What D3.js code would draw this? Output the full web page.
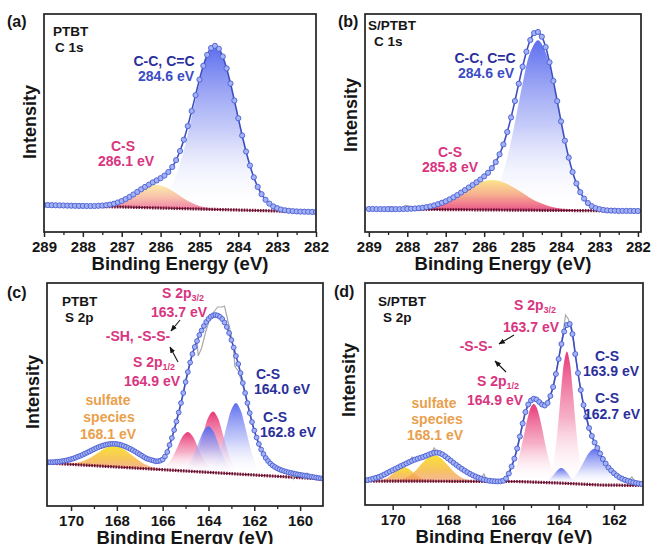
<!DOCTYPE html>
<html>
<head>
<meta charset="UTF-8">
<title>PTBT / S-PTBT XPS</title>
<script src="https://cdn.jsdelivr.net/npm/d3@7"></script>
<style>
  body { margin: 0; background: #fff; }
  svg { display: block; }
  text { font-family: "Liberation Sans", Arial, sans-serif; font-weight: bold; }
</style>
</head>
<body>
<svg id="fig" width="652" height="544"></svg>
<script>
var ticksC1s = [289, 288, 287, 286, 285, 284, 283, 282];
var minorC1s = [288.5, 287.5, 286.5, 285.5, 284.5, 283.5, 282.5];
var ticksS2pC = [170, 168, 166, 164, 162, 160];
var minorS2pC = [169, 167, 165, 163, 161];
var ticksS2pD = [170, 168, 166, 164, 162];
var minorS2pD = [169, 167, 165, 163];

// (a) PTBT C 1s, 289.0 -> 282.0
var envA = [27.0,26.9,26.8,26.7,26.6,26.5,26.4,26.3,26.2,26.1,26.1,26.0,26.0,26.0,26.2,26.4,26.8,27.4,28.3,29.5,
  31.0,32.9,35.1,37.5,40.1,42.7,45.1,47.4,49.6,51.6,53.8,56.4,60.0,65.0,71.9,81.0,92.3,105.9,121.0,136.9,
  152.4,166.2,177.1,184.0,186.2,183.2,175.5,163.6,148.5,131.5,113.8,96.5,80.5,66.5,54.7,45.1,37.8,32.3,28.4,25.6,
  23.8,22.5,21.7,21.2,20.9,20.6,20.4,20.3,20.2,20.1,20.0];
var bgA = [[289, 27], [282, 20]];
var mainA = [[286.4,25.3],[286.2,27.0],[286.0,31.2],[285.8,40.2],[285.6,56.7],[285.4,82.1],[285.2,115.0],[285.0,149.3],
  [284.8,175.7],[284.6,185.6],[284.4,175.3],[284.2,148.5],[284.0,113.8],[283.8,80.5],[283.6,54.7],[283.4,37.8],
  [283.2,28.4],[283.0,23.8],[282.8,21.7]];
var csA = [[287.8,26.0],[287.6,26.2],[287.4,26.8],[287.2,28.3],[287.0,31.0],[286.8,35.0],[286.6,39.8],[286.4,44.2],
  [286.2,46.8],[286.0,46.6],[285.8,43.6],[285.6,38.8],[285.4,33.6],[285.2,29.2],[285.0,26.1],[284.8,24.2],
  [284.6,23.2],[284.4,22.6]];

// (b) S/PTBT C 1s, 289.0 -> 282.0
var envB = [23.0,23.0,22.9,22.9,22.9,22.9,22.8,22.9,22.9,23.0,23.1,23.3,23.5,23.8,24.3,24.9,25.6,26.6,27.8,29.2,
  30.7,32.6,34.7,36.9,39.4,41.9,44.5,47.0,49.7,52.5,55.6,59.2,63.9,69.9,77.7,87.6,100.0,114.6,131.0,148.3,
  165.3,180.3,192.0,198.9,200.0,195.3,184.9,169.7,151.1,130.9,110.6,91.3,74.4,60.0,48.6,39.8,33.4,28.9,25.8,23.9,
  22.8,22.1,21.6,21.4,21.3,21.1,21.1,21.1,21.1,21.0,21.0];
var bgB = [[289, 23], [282, 21]];
var mainB = [[286.4,22.7],[286.2,23.7],[286.0,26.6],[285.8,33.9],[285.6,48.7],[285.4,74.0],[285.2,109.2],[285.0,148.3],
  [284.8,179.7],[284.6,191.7],[284.4,179.6],[284.2,148.0],[284.0,108.9],[283.8,73.5],[283.6,48.2],[283.4,33.2],
  [283.2,25.8],[283.0,22.8],[282.8,21.6]];
var csB = [[288.4,22.9],[288.2,22.9],[288.0,23.1],[287.8,23.5],[287.6,24.3],[287.4,25.6],[287.2,27.8],[287.0,30.7],
  [286.8,34.7],[286.6,39.3],[286.4,44.1],[286.2,48.2],[286.0,51.1],[285.8,52.1],[285.6,51.0],[285.4,48.0],
  [285.2,43.7],[285.0,38.9],[284.8,34.1],[284.6,30.0],[284.4,27.0],[284.2,24.7],[284.0,23.3],[283.8,22.4],
  [283.6,21.9],[283.4,21.6]];
var rawB = [[288.6,22.9],[288.5,24.6],[288.4,25.5],[288.3,23.2],[288.15,23.0],[288.05,26.5],[287.95,26.0],[287.85,23.5]];

// (c) PTBT S 2p, 171.0 -> 159.0
var envC = [43.7,43.8,43.8,44.0,44.2,44.4,44.8,45.2,45.6,46.2,46.9,47.5,48.4,49.3,50.2,51.2,52.3,53.4,54.5,55.7,
  56.8,57.9,58.9,59.7,60.5,61.2,61.7,62.0,62.2,62.1,61.9,61.5,60.9,60.1,59.2,58.1,57.0,55.8,54.4,53.0,
  51.6,50.2,48.8,47.5,46.7,46.0,45.4,44.7,44.8,45.4,46.5,49.5,54,61,68,76,84.5,93.5,103,113,
  124,134,143.5,152,159,165,171,175.5,180,184,187,189.3,190.6,191,190.5,189.2,187,183.5,179,173,
  166,158.5,150,142,133,123,113,103,93,84,75.5,68.5,62,56.5,52,48,45,42.5,40.5,39,
  37.7,36.6,35.7,34.9,34.2,33.6,33.1,32.6,32.1,31.6,31.2,30.8,30.4,30.0,29.6,29.2,28.8,28.4,28.0,27.7,27.3];
var bgC = [[171, 43], [159, 27]];
var sulC = [[170.1,42.4],[169.9,42.7],[169.7,43.5],[169.5,44.7],[169.3,46.5],[169.1,49.1],[168.9,52.1],[168.7,55.1],
  [168.5,57.9],[168.3,59.7],[168.1,60.1],[167.9,59.2],[167.7,56.8],[167.5,53.5],[167.3,50.0],[167.1,46.4],
  [166.9,43.3],[166.7,41.0],[166.5,39.2],[166.3,37.9],[166.1,37.1]];
var p12C = [[166.1,37.6],[165.9,39.5],[165.7,43.9],[165.5,51.7],[165.3,61.7],[165.1,70.4],[164.9,73.9],[164.7,69.9],
  [164.5,60.6],[164.3,50.1],[164.1,41.8],[163.9,36.8],[163.7,34.4]];
var p32C = [[165.0,36.7],[164.8,39.9],[164.6,47.1],[164.4,59.3],[164.2,75.0],[164.0,89.0],[163.8,94.4],[163.6,88.4],
  [163.4,74.0],[163.2,57.7],[163.0,44.9],[162.8,37.3],[162.6,33.5]];
var cs1C = [[165.2,36.6],[165.0,38.9],[164.8,44.2],[164.6,53.4],[164.4,65.2],[164.2,75.6],[164.0,79.7],[163.8,75.1],
  [163.6,64.1],[163.4,51.8],[163.2,42.1],[163.0,36.2],[162.8,33.4]];
var cs2C = [[164.0,35.7],[163.8,39.4],[163.6,47.7],[163.4,62.1],[163.2,80.5],[163.0,96.6],[162.8,103.1],[162.6,96.1],
  [162.4,79.4],[162.2,60.5],[162.0,45.6],[161.8,36.7],[161.6,32.5]];
var rawC = [[171.0,44],[170.8,45],[170.6,43],[170.4,46],[170.2,45],[170.0,48],[169.8,47],[169.6,51],[169.4,50],
  [169.2,55],[169.0,55],[168.8,60],[168.6,59],[168.4,63],[168.2,61],[168.0,64],[167.8,60],[167.6,61],[167.4,56],
  [167.2,56],[167.0,51],[166.8,50],[166.6,46],[166.4,46],[166.2,44],[166.0,46],[165.8,53],[165.6,67],[165.4,84],
  [165.2,102],[165.0,124],[164.8,145],[164.6,161],[164.5,166],[164.45,150],[164.3,158],[164.1,176],[163.9,190],
  [163.7,196],[163.6,199],[163.4,199],[163.3,200],[163.2,190],[163.0,170],[162.9,155],[162.85,140],[162.8,138],
  [162.7,135],[162.6,128],[162.4,112],[162.2,93],[162.0,75],[161.8,61],[161.6,52],[161.4,45],[161.2,40],[161.0,38],
  [160.8,35],[160.6,34],[160.4,33],[160.3,27],[160.2,33],[160.0,31],[159.8,27],[159.7,33],[159.5,29],[159.2,28],[159.0,27]];

// (d) S/PTBT S 2p, 171.0 -> 161.0
var envD = [24.5,25.0,25.6,26.4,27.2,28.0,29.2,30.5,32.0,33.4,34.8,36.2,37.6,39.0,40.3,41.6,43.0,44.2,45.3,46.3,
  47.2,48.1,49.2,50.3,51.4,52.2,52.4,51.9,50.6,48.7,46.6,44.4,42.2,40.1,38.1,36.2,34.4,32.7,31.1,29.7,
  28.4,27.3,26.3,25.4,24.7,24.2,23.9,23.7,23.6,23.7,24.3,26.5,31.5,38.5,46.3,56.5,68.5,81.5,93,100.5,
  104.5,106.3,105.5,103,100.5,99.5,102,109,118,131,146,161,173.5,180,181,171,151,132,115,100,
  88,77,69,62.5,57,51.5,46,41.5,37.5,34.5,31.8,29.5,27.6,26.2,25.1,24.1,23.3,22.6,22.0,21.5,21.1];
var bgD = [[171, 24], [165.5, 23.5], [164, 22], [162.5, 20], [161, 19.5]];
var y1D = [[170.4,25.0],[170.2,27.1],[170.0,31.2],[169.8,35.8],[169.6,37.9],[169.4,35.7],[169.2,31.1],[169.0,27.0],[168.8,24.8]];
var y2D = [[169.9,24.4],[169.7,25.4],[169.5,27.4],[169.3,31.1],[169.1,36.5],[168.9,42.7],[168.7,47.8],[168.5,49.8],
  [168.3,47.8],[168.1,42.6],[167.9,36.4],[167.7,30.9],[167.5,27.2],[167.3,25.2],[167.1,24.2]];
var p12D = [[165.9,24.8],[165.8,26.4],[165.7,29.2],[165.6,34.0],[165.5,41.4],[165.4,51.5],[165.3,63.9],[165.2,77.3],
  [165.1,89.3],[165.0,97.9],[164.9,100.9],[164.8,97.7],[164.7,88.9],[164.6,76.7],[164.5,63.1],[164.4,50.5],
  [164.3,40.2],[164.2,32.7],[164.1,27.8],[164.0,24.9],[163.9,23.2]];
var p32D = [[164.5,23.3],[164.4,25.0],[164.3,29.7],[164.2,40.0],[164.1,58.8],[164.0,86.3],[163.9,117.7],[163.8,143.5],
  [163.7,153.6],[163.6,143.3],[163.5,117.1],[163.4,85.5],[163.3,57.8],[163.2,38.7],[163.1,28.2],[163.0,23.3],[162.9,21.3]];
var cs1D = [[164.5,23.3],[164.4,24.4],[164.3,26.5],[164.2,29.5],[164.1,33.0],[164.0,35.8],[163.9,36.9],[163.8,35.5],
  [163.7,32.5],[163.6,28.8],[163.5,25.5],[163.4,23.2],[163.3,21.9]];
var cs2D = [[163.7,23.2],[163.5,26.2],[163.3,32.8],[163.1,42.7],[162.9,52.3],[162.7,56.3],[162.5,52.1],[162.3,41.9],
  [162.1,31.6],[161.9,24.7],[161.7,21.3]];
var rawD = [[171.0,25],[170.7,26],[170.55,30],[170.4,27],[170.2,32],[170.0,35],[169.8,38],[169.6,40],[169.4,43],
  [169.3,48],[169.2,45],[169.0,47],[168.8,49],[168.6,52],[168.5,57],[168.4,53],[168.2,51],[168.0,47],[167.8,42],
  [167.6,38],[167.4,34],[167.2,31],[167.0,28],[166.8,27],[166.7,31],[166.6,25],[166.4,24],[166.2,24],[166.0,25],
  [165.8,32],[165.6,46],[165.4,68],[165.2,93],[165.0,104],[164.9,107],[164.7,103],[164.5,100],[164.3,109],
  [164.1,131],[163.9,161],[163.75,190],[163.65,186],[163.5,171],[163.3,132],[163.1,100],[162.9,77],[162.7,62],
  [162.5,52],[162.3,41],[162.1,34],[161.9,30],[161.7,26],[161.5,24],[161.35,28],[161.2,22],[161.0,21]];

var NAVY = "#2b2f9c", BLUE = "#3b4cc4", PINK = "#d9357f", ORANGE = "#e9a04c", INK = "#151515";

var svg = d3.select("#fig");
var defs = svg.append("defs");

function grad(id, stops) {
    var g = defs.append("linearGradient").attr("id", id)
        .attr("x1", 0).attr("y1", 0).attr("x2", 0).attr("y2", 1);
    stops.forEach(function (s) {
        g.append("stop").attr("offset", s[0]).attr("stop-color", s[1]).attr("stop-opacity", s[2]);
    });
}
grad("gBlue", [[0, "#5466ee", 0.95], [0.5, "#9ea8f4", 0.6], [1, "#ffffff", 0]]);
grad("gPink", [[0, "#e62f6f", 0.95], [0.5, "#f07ba3", 0.6], [1, "#ffffff", 0]]);
grad("gCS", [[0, "#fce68c", 1], [0.5, "#f6a98a", 0.95], [1, "#e8457f", 0.9]]);
grad("gSul", [[0, "#f8e236", 1], [0.6, "#f6bd4f", 0.9], [1, "#ef8f58", 0.6]]);

defs.append("marker").attr("id", "arr").attr("viewBox", "0 0 10 10")
    .attr("refX", 9).attr("refY", 5).attr("markerWidth", 6).attr("markerHeight", 6)
    .attr("orient", "auto")
    .append("path").attr("d", "M0,1L10,5L0,9z").attr("fill", INK);

function toPts(start, vals) {
    return vals.map(function (v, i) { return [+(start - i * 0.1).toFixed(2), v]; });
}

var panels = [
    {key: "a", box: [44, 14, 316, 232], xDom: [289, 282], ticks: ticksC1s, minor: minorC1s,
        env: toPts(289, envA), bg: bgA, raw: null, r: 2.6, yLab: [36, 122],
        comps: [{d: mainA, g: "gBlue"}, {d: csA, g: "gCS", op: 0.75}]},
    {key: "b", box: [365, 14, 641, 232], xDom: [289.1, 281.92], ticks: ticksC1s, minor: minorC1s,
        env: toPts(289, envB), bg: bgB, raw: rawB, r: 2.6, yLab: [357, 115],
        comps: [{d: mainB, g: "gBlue"}, {d: csB, g: "gCS"}]},
    {key: "c", box: [47, 283, 323, 506], xDom: [171.05, 159], ticks: ticksS2pC, minor: minorS2pC,
        env: toPts(171, envC), bg: bgC, raw: rawC, r: 2.4, yLab: [39, 392],
        comps: [{d: sulC, g: "gSul"}, {d: p12C, g: "gPink"}, {d: p32C, g: "gPink"},
            {d: cs1C, g: "gBlue"}, {d: cs2C, g: "gBlue"}]},
    {key: "d", box: [365, 283, 643, 505], xDom: [171, 160.95], ticks: ticksS2pD, minor: minorS2pD,
        env: toPts(171, envD), bg: bgD, raw: rawD, r: 2.5, yLab: [355, 380],
        comps: [{d: y1D, g: "gSul"}, {d: y2D, g: "gSul"}, {d: p12D, g: "gPink"}, {d: p32D, g: "gPink"},
            {d: cs1D, g: "gBlue"}, {d: cs2D, g: "gBlue"}]}
];

panels.forEach(function (p) {
    var x0 = p.box[0], y0 = p.box[1], x1 = p.box[2], y1 = p.box[3];
    var x = d3.scaleLinear().domain(p.xDom).range([x0, x1]);
    var y = d3.scaleLinear().domain([0, y1 - y0]).range([y1, y0]);
    var bgS = d3.scaleLinear().domain(p.bg.map(function (d) { return d[0]; }))
        .range(p.bg.map(function (d) { return d[1]; }));

    defs.append("clipPath").attr("id", "clip" + p.key)
        .append("rect").attr("x", x0).attr("y", y0).attr("width", x1 - x0).attr("height", y1 - y0);
    var plot = svg.append("g").attr("clip-path", "url(#clip" + p.key + ")");

    var area = d3.area()
        .x(function (d) { return x(d[0]); })
        .y0(function (d) { return y(bgS(d[0])); })
        .y1(function (d) { return y(d[1]); })
        .curve(d3.curveCatmullRom);
    p.comps.forEach(function (c) {
        plot.append("path").datum(c.d).attr("d", area)
            .attr("fill", "url(#" + c.g + ")").attr("opacity", c.op || 1);
    });

    var line = d3.line().x(function (d) { return x(d[0]); }).y(function (d) { return y(d[1]); });

    // background with its dense markers
    plot.append("path").datum(p.bg).attr("d", line).attr("fill", "none")
        .attr("stroke", "#8a1a3e").attr("stroke-width", 3.2).attr("stroke-dasharray", "1.6 1.1");
    plot.append("path").datum(p.bg).attr("d", line).attr("fill", "none")
        .attr("stroke", "#4d0a22").attr("stroke-width", 0.8);

    if (p.raw) {
        plot.append("path").datum(p.raw).attr("d", line).attr("fill", "none")
            .attr("stroke", "#a9a9a9").attr("stroke-width", 1.2);
    }

    plot.append("path").datum(p.env).attr("d", d3.line()
            .x(function (d) { return x(d[0]); }).y(function (d) { return y(d[1]); })
            .curve(d3.curveCatmullRom))
        .attr("fill", "none").attr("stroke", "#3d4fc0").attr("stroke-width", 1.6);

    plot.selectAll("circle.pt").data(p.env).enter().append("circle")
        .attr("class", "pt")
        .attr("cx", function (d) { return x(d[0]); })
        .attr("cy", function (d) { return y(d[1]); })
        .attr("r", p.r)
        .attr("fill", "#a3b2f7").attr("stroke", "#4a5dcf").attr("stroke-width", 0.9);

    svg.append("rect").attr("x", x0).attr("y", y0).attr("width", x1 - x0).attr("height", y1 - y0)
        .attr("fill", "none").attr("stroke", "#222").attr("stroke-width", 1.7);

    var ax = svg.append("g").attr("transform", "translate(0," + y1 + ")")
        .call(d3.axisBottom(x).tickValues(p.ticks).tickSize(5).tickPadding(4).tickFormat(d3.format("d")));
    ax.attr("font-size", 15).attr("font-family", null);
    ax.select(".domain").remove();
    ax.selectAll("line").attr("stroke", "#222").attr("stroke-width", 1.5);
    ax.selectAll("text").attr("fill", INK);

    var mx = svg.append("g").attr("transform", "translate(0," + y1 + ")")
        .call(d3.axisBottom(x).tickValues(p.minor).tickSize(3).tickFormat(""));
    mx.select(".domain").remove();
    mx.selectAll("line").attr("stroke", "#222").attr("stroke-width", 1.3);

    svg.append("text").attr("x", (x0 + x1) / 2).attr("y", y1 + 38)
        .attr("text-anchor", "middle").attr("font-size", 18.5).attr("fill", INK)
        .text("Binding Energy (eV)");
    svg.append("text").attr("transform", "translate(" + p.yLab[0] + "," + p.yLab[1] + ") rotate(-90)")
        .attr("text-anchor", "middle").attr("font-size", 18).attr("fill", INK)
        .text("Intensity");
});

var labels = [
    {x: 7, y: 27, t: "(a)", c: INK, s: 16, a: "start"},
    {x: 338, y: 27, t: "(b)", c: INK, s: 16, a: "start"},
    {x: 7, y: 298, t: "(c)", c: INK, s: 16, a: "start"},
    {x: 334, y: 297, t: "(d)", c: INK, s: 16, a: "start"},
    {x: 53, y: 36, t: "PTBT", c: INK, s: 13.5, a: "start"},
    {x: 55, y: 52, t: "C 1s", c: INK, s: 13.5, a: "start"},
    {x: 368, y: 30, t: "S/PTBT", c: INK, s: 13.5, a: "start"},
    {x: 374, y: 46, t: "C 1s", c: INK, s: 13.5, a: "start"},
    {x: 62, y: 306, t: "PTBT", c: INK, s: 13.5, a: "start"},
    {x: 65, y: 322, t: "S 2p", c: INK, s: 13.5, a: "start"},
    {x: 378, y: 306, t: "S/PTBT", c: INK, s: 13.5, a: "start"},
    {x: 383, y: 322, t: "S 2p", c: INK, s: 13.5, a: "start"},
    // (a)
    {x: 164, y: 66, t: "C-C, C=C", c: NAVY}, {x: 166, y: 81, t: "284.6 eV", c: BLUE},
    {x: 123, y: 151, t: "C-S", c: PINK}, {x: 126, y: 166, t: "286.1 eV", c: PINK},
    // (b)
    {x: 485, y: 63, t: "C-C, C=C", c: NAVY}, {x: 486, y: 78, t: "284.6 eV", c: BLUE},
    {x: 450, y: 157, t: "C-S", c: PINK}, {x: 450, y: 172, t: "285.8 eV", c: PINK},
    // (c)
    {x: 183, y: 298, t: "S 2p", sub: "3/2", c: PINK}, {x: 179, y: 317, t: "163.7 eV", c: PINK},
    {x: 138, y: 341, t: "-SH, -S-S-", c: PINK},
    {x: 154, y: 367, t: "S 2p", sub: "1/2", c: PINK}, {x: 152, y: 386, t: "164.9 eV", c: PINK},
    {x: 268, y: 379, t: "C-S", c: NAVY}, {x: 282, y: 394, t: "164.0 eV", c: NAVY},
    {x: 275, y: 422, t: "C-S", c: NAVY}, {x: 288, y: 437, t: "162.8 eV", c: NAVY},
    {x: 108, y: 405, t: "sulfate", c: ORANGE}, {x: 109, y: 422, t: "species", c: ORANGE},
    {x: 108, y: 439, t: "168.1 eV", c: ORANGE},
    // (d)
    {x: 535, y: 310, t: "S 2p", sub: "3/2", c: PINK}, {x: 531, y: 332, t: "163.7 eV", c: PINK},
    {x: 476, y: 351, t: "-S-S-", c: PINK},
    {x: 498, y: 386, t: "S 2p", sub: "1/2", c: PINK}, {x: 495, y: 405, t: "164.9 eV", c: PINK},
    {x: 607, y: 361, t: "C-S", c: NAVY}, {x: 611, y: 376, t: "163.9 eV", c: NAVY},
    {x: 607, y: 403, t: "C-S", c: NAVY}, {x: 612, y: 419, t: "162.7 eV", c: NAVY},
    {x: 434, y: 408, t: "sulfate", c: ORANGE}, {x: 437, y: 424, t: "species", c: ORANGE},
    {x: 435, y: 440, t: "168.1 eV", c: ORANGE}
];

labels.forEach(function (l) {
    var el = svg.append("text").attr("x", l.x).attr("y", l.y)
        .attr("fill", l.c).attr("font-size", l.s || 14).attr("text-anchor", l.a || "middle");
    if (l.sub) {
        el.append("tspan").text(l.t);
        el.append("tspan").attr("font-size", 9).attr("dy", 2.5).text(l.sub);
    } else {
        el.text(l.t);
    }
});

var arrows = [
    [180, 320, 171, 331], [178, 362, 170, 347],
    [514, 335, 499, 344], [506, 372, 495, 361]
];
arrows.forEach(function (a) {
    svg.append("line").attr("x1", a[0]).attr("y1", a[1]).attr("x2", a[2]).attr("y2", a[3])
        .attr("stroke", INK).attr("stroke-width", 1.1).attr("marker-end", "url(#arr)");
});
</script>
</body>
</html>
